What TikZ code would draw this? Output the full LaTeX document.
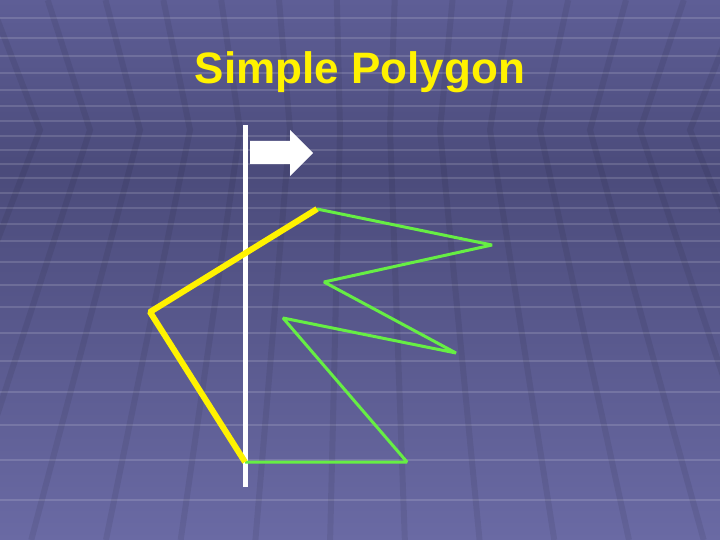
\documentclass[tikz,border=0pt]{standalone}
\usepackage{fontspec}
\setmainfont{Liberation Sans}
\usepackage{tikz}
\definecolor{slidetop}{HTML}{5E5E96}
\definecolor{slidemid}{HTML}{4B4B7B}
\definecolor{slidebot}{HTML}{6A6AA4}
\definecolor{edgegreen}{HTML}{66EE44}
\tikzset{
    yellowedge/.style={color=yellow, line width=6pt, line join=bevel},
    greenedge/.style={color=edgegreen, line width=3pt, line join=bevel},
    gridline/.style={color=white, opacity=0.14, line width=2pt},
    darkline/.style={color=black, opacity=0.07, line width=6pt}
}

\begin{document}
\begin{tikzpicture}[x=1pt, y=-1pt]
    % slide background
    \shade[top color=slidetop, bottom color=slidemid] (0,0) rectangle (720,170);
    \shade[top color=slidemid, bottom color=slidebot] (0,170) rectangle (720,540);
    \useasboundingbox (0,0) rectangle (720,540);
    \begin{scope}
        \clip (0,0) rectangle (720,540);
        \foreach \y in {18,38,56,73,90,106,121,136,150,164,178,193,208,224,
                        241,262,285,307,333,361,392,425,460,500}
            \draw[gridline] (0,\y) -- (720,\y);
        \foreach \h in {-60,-10,...,790}
            \draw[darkline]
                ({\h+(\h-360)*0.0012*130},0) -- (\h,130)
                -- ({\h+(\h-360)*0.0012*410},540);
    \end{scope}

    % title
    \node[text=yellow, font=\bfseries\fontsize{44}{50}\selectfont] (title)
        at (360,72) {Simple Polygon};

    % sweep line and its direction
    \coordinate (sweeptop) at (245,125);
    \coordinate (sweepbot) at (245,487);
    \draw[white, line width=5pt] (sweeptop) -- (sweepbot);
    \fill[white] (250,141) -- (290,141) -- (290,130) -- (313,153)
        -- (290,176) -- (290,164) -- (250,164) -- cycle;

    % polygon vertices
    \coordinate (v1) at (317,209);
    \coordinate (v2) at (492,245);
    \coordinate (v3) at (324,282);
    \coordinate (v4) at (456,353);
    \coordinate (v5) at (283,318);
    \coordinate (v6) at (407,462);
    \coordinate (v7) at (245,462);
    \coordinate (v8) at (150,312);

    \draw[greenedge] (v1) -- (v2) -- (v3) -- (v4) -- (v5) -- (v6) -- (v7);
    \draw[yellowedge] (v7) -- (v8) -- (v1);
\end{tikzpicture}
\end{document}
